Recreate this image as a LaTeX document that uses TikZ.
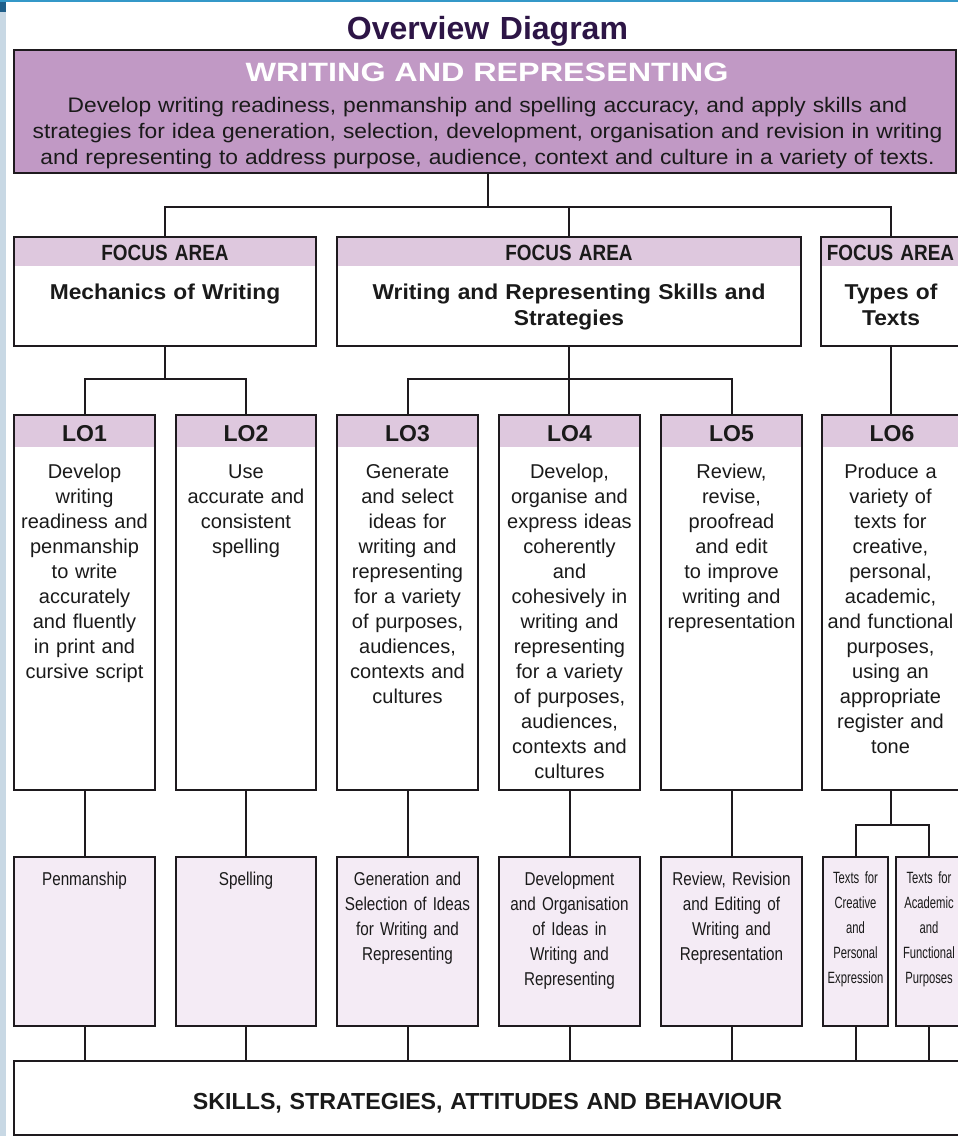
\documentclass[tikz,border=0pt]{standalone}
\usepackage{fontspec}
\setmainfont{Liberation Sans}
\newfontfamily\fMain[FakeStretch=1.085]{Liberation Sans}
\newfontfamily\fHead[FakeStretch=1.22]{Liberation Sans}
\newfontfamily\fFocus[FakeStretch=1.06]{Liberation Sans}
\newfontfamily\fNarrow[FakeStretch=0.86]{Liberation Sans}
\newfontfamily\fCond[FakeStretch=0.82,WordSpace=0.8]{Liberation Sans}
\newfontfamily\fTight[FakeStretch=0.69,WordSpace=0.7]{Liberation Sans}
\definecolor{linec}{HTML}{1E1A1E}
\definecolor{textc}{HTML}{1A1A1A}
\definecolor{titlec}{HTML}{2D1546}
\definecolor{mainc}{HTML}{C199C5}
\definecolor{bandc}{HTML}{DEC8DE}
\definecolor{lightc}{HTML}{F4EBF5}
\definecolor{stripc}{HTML}{C8D8E4}
\definecolor{topc}{HTML}{3498C8}
\definecolor{cornerc}{HTML}{1F5F8A}
\begin{document}
\begin{tikzpicture}[x=1pt,y=-1pt,
  boxline/.style={draw=linec, line width=2.3pt, inner sep=0pt, outer sep=0pt, anchor=north west, fill=white},
  conn/.style={draw=linec, line width=2pt},
  bandlo/.style={path picture={\fill[bandc] (path picture bounding box.north west) rectangle ([yshift=-32pt]path picture bounding box.north east);}},
  bandfa/.style={path picture={\fill[bandc] (path picture bounding box.north west) rectangle ([yshift=-29pt]path picture bounding box.north east);}},
  txt/.style={inner sep=0pt, anchor=base, align=center, text width=240pt, text=textc},
  lotxt/.style={txt, font=\fontsize{20}{25}\selectfont},
  lohead/.style={txt, font=\fontsize{23}{25}\selectfont\bfseries},
  fahead/.style={txt, font=\fNarrow\fontsize{22}{26}\selectfont\bfseries},
  fatxt/.style={txt, font=\fFocus\fontsize{21.5}{26}\selectfont\bfseries},
  btxt/.style={txt, font=\fCond\fontsize{18.6}{25}\selectfont},
  stxt/.style={txt, text width=80pt, font=\fTight\fontsize{16.3}{25}\selectfont}
]
\useasboundingbox (0,0) rectangle (958,1136);
\fill[white] (0,0) rectangle (958,1136);
\fill[stripc] (0,12) rectangle (5.5,1136);
\fill[cornerc] (0,0) rectangle (5.5,12);
\fill[topc] (0,0) rectangle (958,1.6);

% title
\node[txt, text width=600pt, text=titlec, font=\fontsize{32}{34}\selectfont\bfseries] (title) at (487.5,39) {Overview Diagram};

% main box
\node[boxline, fill=mainc, minimum width=942pt, minimum height=123pt] (main) at (14,50) {};
\node[txt, text width=600pt, text=white, font=\fHead\fontsize{26.5}{30}\selectfont\bfseries] (mainhead) at (487,81.7) {WRITING AND REPRESENTING};
\node[txt, text width=950pt, font=\fMain\fontsize{21}{26}\selectfont] (maintxt) at (487.5,112.5) {Develop writing readiness, penmanship and spelling accuracy, and apply skills and\\strategies for idea generation, selection, development, organisation and revision in writing\\and representing to address purpose, audience, context and culture in a variety of texts.};

% focus areas
\node[boxline, bandfa, minimum width=302pt, minimum height=109pt] (fa1) at (14,237) {};
\node[boxline, bandfa, minimum width=464pt, minimum height=109pt] (fa2) at (337,237) {};
\node[boxline, bandfa, minimum width=140pt, minimum height=109pt] (fa3) at (821,237) {};
\node[fahead] (fa1h) at (165,260.5) {FOCUS AREA};
\node[fahead] (fa2h) at (569,260.5) {FOCUS AREA};
\node[fahead] (fa3h) at (890.5,260.5) {FOCUS AREA};
\node[fatxt] (fa1t) at (165,299) {Mechanics of Writing};
\node[fatxt, text width=460pt] (fa2t) at (569,299) {Writing and Representing Skills and\\Strategies};
\node[fatxt] (fa3t) at (891,299) {Types of\\Texts};

% learning outcomes
\node[boxline, bandlo, minimum width=141pt, minimum height=375pt] (lo1) at (14,415) {};
\node[boxline, bandlo, minimum width=140pt, minimum height=375pt] (lo2) at (176,415) {};
\node[boxline, bandlo, minimum width=141pt, minimum height=375pt] (lo3) at (337,415) {};
\node[boxline, bandlo, minimum width=141pt, minimum height=375pt] (lo4) at (499,415) {};
\node[boxline, bandlo, minimum width=141pt, minimum height=375pt] (lo5) at (661,415) {};
\node[boxline, bandlo, minimum width=140pt, minimum height=375pt] (lo6) at (822,415) {};
\node[lohead] (lo1h) at (84.5,441.5) {LO1};
\node[lohead] (lo2h) at (246,441.5) {LO2};
\node[lohead] (lo3h) at (407.5,441.5) {LO3};
\node[lohead] (lo4h) at (569.5,441.5) {LO4};
\node[lohead] (lo5h) at (731.5,441.5) {LO5};
\node[lohead] (lo6h) at (892,441.5) {LO6};
\node[lotxt] (lo1t) at (84.5,478.5) {Develop\\writing\\readiness and\\penmanship\\to write\\accurately\\and fluently\\in print and\\cursive script};
\node[lotxt] (lo2t) at (246,478.5) {Use\\accurate and\\consistent\\spelling};
\node[lotxt] (lo3t) at (407.5,478.5) {Generate\\and select\\ideas for\\writing and\\representing\\for a variety\\of purposes,\\audiences,\\contexts and\\cultures};
\node[lotxt] (lo4t) at (569.5,478.5) {Develop,\\organise and\\express ideas\\coherently\\and\\cohesively in\\writing and\\representing\\for a variety\\of purposes,\\audiences,\\contexts and\\cultures};
\node[lotxt] (lo5t) at (731.5,478.5) {Review,\\revise,\\proofread\\and edit\\to improve\\writing and\\representation};
\node[lotxt] (lo6t) at (890.5,478.5) {Produce a\\variety of\\texts for\\creative,\\personal,\\academic,\\and functional\\purposes,\\using an\\appropriate\\register and\\tone};

% strands
\node[boxline, fill=lightc, minimum width=141pt, minimum height=169pt] (b1) at (14,857) {};
\node[boxline, fill=lightc, minimum width=140pt, minimum height=169pt] (b2) at (176,857) {};
\node[boxline, fill=lightc, minimum width=141pt, minimum height=169pt] (b3) at (337,857) {};
\node[boxline, fill=lightc, minimum width=141pt, minimum height=169pt] (b4) at (499,857) {};
\node[boxline, fill=lightc, minimum width=141pt, minimum height=169pt] (b5) at (661,857) {};
\node[boxline, fill=lightc, minimum width=65pt, minimum height=169pt] (b6a) at (823,857) {};
\node[boxline, fill=lightc, minimum width=66pt, minimum height=169pt] (b6b) at (896,857) {};
\node[btxt] (b1t) at (84.5,885) {Penmanship};
\node[btxt] (b2t) at (246,885) {Spelling};
\node[btxt] (b3t) at (407.5,885) {Generation and\\Selection of Ideas\\for Writing and\\Representing};
\node[btxt] (b4t) at (569.5,885) {Development\\and Organisation\\of Ideas in\\Writing and\\Representing};
\node[btxt] (b5t) at (731.5,885) {Review, Revision\\and Editing of\\Writing and\\Representation};
\node[stxt] (b6at) at (855.5,883) {Texts for\\Creative\\and\\Personal\\Expression};
\node[stxt] (b6bt) at (929,883) {Texts for\\Academic\\and\\Functional\\Purposes};

% skills box
\node[boxline, minimum width=950pt, minimum height=74pt] (skills) at (14,1061) {};
\node[txt, text width=900pt, font=\fontsize{23.2}{26}\selectfont\bfseries] (skillst) at (487.5,1109) {SKILLS, STRATEGIES, ATTITUDES AND BEHAVIOUR};

% connectors
\coordinate (j0) at (488,207);
\coordinate (j1) at (165,379);
\coordinate (j2) at (569,379);
\coordinate (j6) at (891,825);
\draw[conn] (main.south -| j0) -- (j0);
\draw[conn] (fa1.north) -- (fa1.north |- j0) -- (fa3.north |- j0) -- (fa3.north);
\draw[conn] (fa2.north) -- (fa2.north |- j0);
\draw[conn] (fa1.south) -- (j1);
\draw[conn] (lo1.north) -- (lo1.north |- j1) -- (lo2.north |- j1) -- (lo2.north);
\draw[conn] (fa2.south) -- (lo4.north -| fa2.south);
\draw[conn] (lo3.north) -- (lo3.north |- j2) -- (lo5.north |- j2) -- (lo5.north);
\draw[conn] (fa3.south -| j6) -- (lo6.north -| j6);
\draw[conn] (lo1.south) -- (b1.north);
\draw[conn] (lo2.south) -- (b2.north);
\draw[conn] (lo3.south) -- (b3.north);
\draw[conn] (lo4.south) -- (b4.north);
\draw[conn] (lo5.south) -- (b5.north);
\draw[conn] (lo6.south -| j6) -- (j6);
\draw[conn] (b6a.north) -- (b6a.north |- j6) -- (b6b.north |- j6) -- (b6b.north);
\foreach \b in {b1,b2,b3,b4,b5,b6a,b6b} {
  \draw[conn] (\b.south) -- (\b.south |- skills.north);
}
\end{tikzpicture}
\end{document}
